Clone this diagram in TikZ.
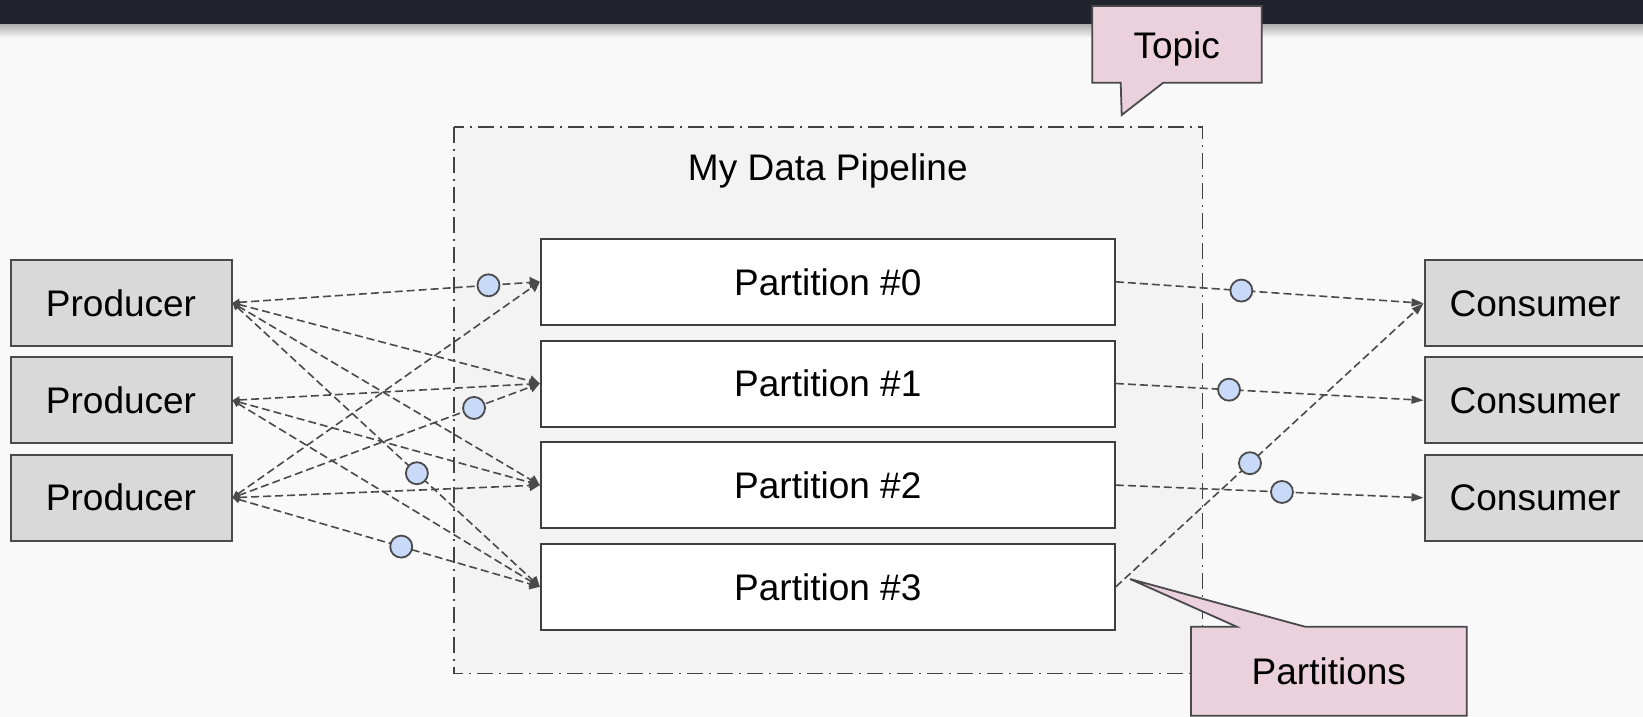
\documentclass[tikz,border=0pt]{standalone}
\usepackage{fontspec}
\setmainfont{Liberation Sans}
\usetikzlibrary{arrows.meta}

\definecolor{pagebg}{HTML}{F9F9F9}
\definecolor{barbg}{HTML}{21242D}
\definecolor{framebg}{HTML}{F3F3F3}
\definecolor{boxgrey}{HTML}{D9D9D9}
\definecolor{edgec}{HTML}{4A4A4A}
\definecolor{callpink}{HTML}{EAD1DC}
\definecolor{msgblue}{HTML}{C9DAF8}

\begin{document}
\begin{tikzpicture}[x=0.5pt,y=-0.5pt,
  every node/.style={font=\fontsize{18.5}{22}\selectfont},
  client/.style={draw=edgec, line width=1pt, fill=boxgrey,
    minimum width=110.5pt, minimum height=43pt, inner sep=0pt},
  part/.style={draw=edgec!85!black, line width=1pt, fill=white,
    minimum width=287pt, minimum height=43pt, inner sep=0pt},
  link/.style={draw=edgec, line width=0.8pt, dash pattern=on 4pt off 2pt},
  produce/.style={link, {Triangle[length=3.5pt,width=3.5pt]}-{Triangle[length=5pt,width=5.5pt]}},
  consume/.style={link, -{Triangle[length=6pt,width=4pt]}},
  msg/.style={circle, solid, draw=edgec, line width=0.9pt, fill=msgblue,
    minimum size=11pt, inner sep=0pt},
  topicframe/.style={draw=edgec!90!black, line width=0.8pt, fill=framebg,
    dash pattern=on 8pt off 3pt on 1pt off 3pt},
  callout/.style={draw=edgec, line width=0.9pt, fill=callpink, line join=miter},
]

% page, header bar and its shadow
\useasboundingbox (0,0) rectangle (1643,717);
\clip (0,0) rectangle (1643,717);
\fill[pagebg] (0,0) rectangle (1643,717);
\fill[barbg] (0,0) rectangle (1643,25);
\shade[top color=black!30, bottom color=pagebg] (0,25) rectangle (1643,38);

% topic frame
\draw[topicframe] (453.7,127) rectangle (1202.4,673.4);
\node (title) at (827.8,170.5) {My Data Pipeline};

% partitions
\node[part] (p0) at (827.8,281.8) {Partition \#0};
\node[part] (p1) at (827.8,383.5) {Partition \#1};
\node[part] (p2) at (827.8,485.1) {Partition \#2};
\node[part] (p3) at (827.8,586.8) {Partition \#3};

% producers
\node[client] (pr0) at (121,302.8) {Producer};
\node[client] (pr1) at (121,400.3) {Producer};
\node[client] (pr2) at (121,497.7) {Producer};

% consumers
\node[client] (c0) at (1535,303.3) {Consumer};
\node[client] (c1) at (1535,400.3) {Consumer};
\node[client] (c2) at (1535,497.8) {Consumer};

% producers writing to partitions
\draw[produce] (pr0.east) -- (p1.west);
\draw[produce] (pr0.east) -- (p2.west);
\draw[produce] (pr1.east) -- (p1.west);
\draw[produce] (pr1.east) -- (p2.west);
\draw[produce] (pr1.east) -- (p3.west);
\draw[produce] (pr2.east) -- (p0.west);
\draw[produce] (pr2.east) -- (p2.west);
\draw[produce] (pr0.east) -- node[msg, pos=0.833] (m0) {} (p0.west);
\draw[produce] (pr0.east) -- node[msg, pos=0.60] (m1) {} (p3.west);
\draw[produce] (pr2.east) -- node[msg, pos=0.786] (m2) {} (p1.west);
\draw[produce] (pr2.east) -- node[msg, pos=0.549] (m3) {} (p3.west);

% consumers reading from partitions
\draw[consume] (p0.east) -- node[msg, pos=0.408] (m4) {} (c0.west);
\draw[consume] (p1.east) -- node[msg, pos=0.368] (m5) {} (c1.west);
\draw[consume] (p2.east) -- node[msg, pos=0.540] (m6) {} (c2.west);
\draw[consume] (p3.east) -- node[msg, pos=0.436] (m7) {} (c0.west);

% callouts
\filldraw[callout] (1092.3,6) -- (1261.7,6) -- (1261.7,82.7) -- (1163.3,82.7)
  -- (1121.7,115) -- (1120.7,82.7) -- (1092.3,82.7) -- cycle;
\node (topic) at (1176.7,48.5) {Topic};

\filldraw[callout] (1191,626.7) -- (1236.7,626.7) -- (1130,579) -- (1305,626.7)
  -- (1466.7,626.7) -- (1466.7,715.7) -- (1191,715.7) -- cycle;
\node (parts) at (1328.8,671) {Partitions};
\end{tikzpicture}
\end{document}
